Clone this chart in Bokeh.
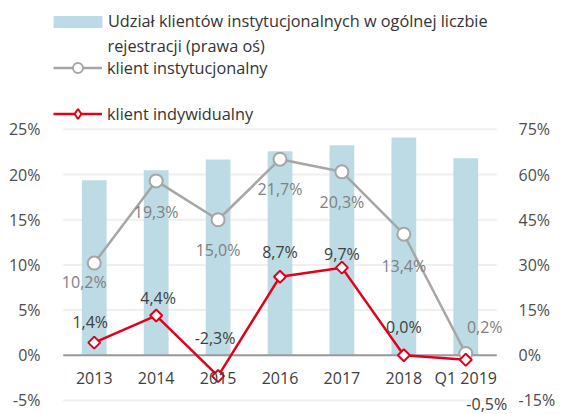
import math
from bokeh.plotting import figure
from bokeh.models import (Range1d, LinearAxis, FixedTicker, PrintfTickFormatter,
                          ColumnDataSource, Legend, LegendItem, Label)
from bokeh.core.properties import value
from bokeh.embed import file_html
from bokeh.resources import INLINE

# ---- data ----
categories = ["2013", "2014", "2015", "2016", "2017", "2018", "Q1 2019"]
share_institutional = [58.1, 61.4, 65.0, 67.7, 69.7, 72.3, 65.4]   # right axis, %
institutional = [10.2, 19.3, 15.0, 21.7, 20.3, 13.4, 0.2]          # left axis, %
individual = [1.4, 4.4, -2.3, 8.7, 9.7, 0.0, -0.5]                 # left axis, %
left_ticks = [-5, 0, 5, 10, 15, 20, 25]
right_ticks = [-15, 0, 15, 30, 45, 60, 75]

# label placement (pixels)
inst_dx = [-10, 0, 0, 0, 0, 0, 19]
inst_dy = [19, 31, 30, 30, 30, 32, -26]
ind_dx = [-4, 2, -3, 0, 0, 0, 21]
ind_dy = [-21, -18, -38, -25, -14, -28, 44]

FONT = value("Open Sans")
FS = "16px"
n = len(categories)
xs = [i + 0.5 for i in range(n)]          # category slot centres
pad = 13 / 63                             # extra frame room outside the slots


def fmt(v):
    return f"{v:.1f}".replace(".", ",") + "%"


# frame spans the full height; the space above 25% holds the legend
p = figure(x_range=Range1d(-pad, n + pad), y_range=Range1d(-6.55, 39.26),
           width=558, height=414, x_axis_location=None,
           min_border_left=50, min_border_right=41, min_border_top=0, min_border_bottom=0,
           output_backend="svg", toolbar_location=None)
p.extra_y_ranges = {"right": Range1d(-19.65, 117.78)}
p.outline_line_color = None
p.background_fill_color = "white"
p.xgrid.visible = False
p.ygrid.visible = False

# axes
la = p.yaxis[0]
la.ticker = FixedTicker(ticks=left_ticks)
la.formatter = PrintfTickFormatter(format="%d%%")
ra = LinearAxis(y_range_name="right", ticker=FixedTicker(ticks=right_ticks),
                formatter=PrintfTickFormatter(format="%d%%"))
p.add_layout(ra, "right")
for ax, st in ((la, 4), (ra, 3)):
    ax.axis_line_color = None
    ax.major_tick_line_color = None
    ax.minor_tick_line_color = None
    ax.major_label_text_font = "Open Sans"
    ax.major_label_text_font_size = FS
    ax.major_label_text_color = "#4d4d4d"
    ax.major_label_standoff = st

# horizontal gridlines across the category slots
p.segment(x0=[0] * len(left_ticks), x1=[n] * len(left_ticks), y0=left_ticks, y1=left_ticks,
          line_color="#efefef", line_width=2)

# bars
bars = p.vbar(x=xs, top=share_institutional, width=0.4, y_range_name="right",
              fill_color="#bddbe5", line_color=None)

# zero line
p.segment(x0=[0], x1=[n], y0=[0], y1=[0], line_color="#9a9a9a", line_width=2)

# institutional line
inst_src = ColumnDataSource(dict(x=xs, y=institutional,
                                 t=[fmt(v) for v in institutional], dx=inst_dx, dy=inst_dy))
gl = p.line("x", "y", source=inst_src, line_color="#a6a6a6", line_width=2.5)
gm = p.scatter("x", "y", source=inst_src, marker="circle", size=13, fill_color="white",
               line_color="#a6a6a6", line_width=2)

# individual line
ind_src = ColumnDataSource(dict(x=xs, y=individual,
                                t=[fmt(v) for v in individual], dx=ind_dx, dy=ind_dy))
rl = p.line("x", "y", source=ind_src, line_color="#e2001a", line_width=2.5)
rm = p.scatter("x", "y", source=ind_src, marker="square", angle=math.pi / 4, size=8.5,
               fill_color="white", line_color="#e2001a", line_width=2)
# legend-only marker (diamond outline)
rd = p.scatter("x", "y", source=ind_src, marker="diamond", size=10,
               fill_color="white", line_color="#e2001a", line_width=2, visible=False)

# data labels
p.text("x", "y", text="t", source=inst_src, x_offset="dx", y_offset="dy",
       text_align="center", text_baseline="middle", text_font=FONT,
       text_font_size=FS, text_color="#808080")
p.text("x", "y", text="t", source=ind_src, x_offset="dx", y_offset="dy",
       text_align="center", text_baseline="middle", text_font=FONT,
       text_font_size=FS, text_color="#404040")

# category labels under the zero line
cat_src = ColumnDataSource(dict(x=xs, y=[0] * n, t=categories))
p.text("x", "y", text="t", source=cat_src, y_offset=23,
       text_align="center", text_baseline="middle", text_font=FONT,
       text_font_size=FS, text_color="#404040")


# legends
LFS = "16.3px"


def style(lg):
    lg.background_fill_alpha = 0
    lg.border_line_alpha = 0
    lg.padding = 0
    lg.margin = 0
    lg.spacing = 0
    lg.label_text_font = "Open Sans"
    lg.label_text_font_size = LFS
    lg.label_text_color = "#333333"


lg1 = Legend(items=[LegendItem(label="Udział klientów instytucjonalnych w ogólnej liczbie",
                               renderers=[bars])],
             location=(-3, 382), glyph_width=61, glyph_height=15, label_height=22,
             label_standoff=0)
lg2 = Legend(items=[LegendItem(label="klient instytucjonalny", renderers=[gl, gm])],
             location=(3, 334), glyph_width=49, glyph_height=25, label_standoff=5)
lg3 = Legend(items=[LegendItem(label="klient indywidualny", renderers=[rl, rd])],
             location=(3, 288), glyph_width=49, glyph_height=25, label_standoff=5)
for lg in (lg1, lg2, lg3):
    style(lg)
    p.add_layout(lg, "center")

p.add_layout(Label(x=57, y=369, x_units="screen", y_units="screen",
                   text="rejestracji (prawa oś)", text_baseline="middle",
                   text_font="Open Sans", text_font_size=LFS, text_color="#333333"))

open("out.html", "w").write(file_html(p, INLINE))
